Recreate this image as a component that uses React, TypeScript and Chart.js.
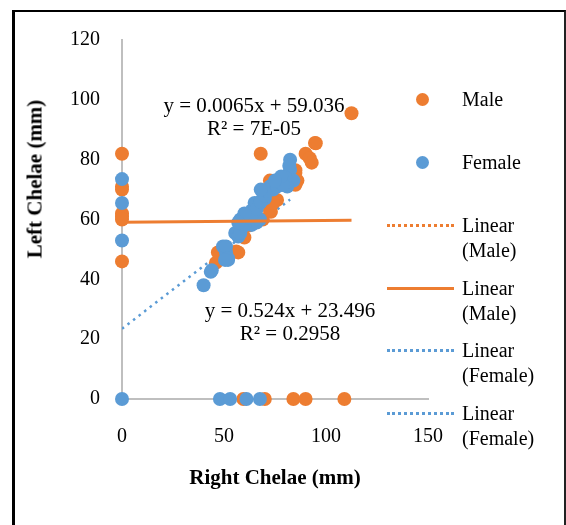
import React, { useEffect, useRef } from "react";
import { Chart, registerables } from "chart.js";

Chart.register(...registerables);

// ---- Data ----
const maleX = [0, 0, 0, 0, 0, 0, 0, 59.5, 70, 84, 90, 109, 112.5, 95, 68, 90, 92, 93, 85, 84, 86, 72.5, 71, 76, 72.5, 69, 60, 57, 48, 46, 73, 75, 65, 62, 85, 85, 73, 74, 56, 47, 94.6];
const maleY = [82, 71, 70, 62, 61, 60, 46, 0, 0, 0, 0, 0, 95.5, 85.5, 82, 82, 80.5, 79, 76.5, 72, 73, 73, 69, 66.5, 63, 60, 54, 49, 49, 45.5, 71.5, 72, 60, 58, 75.6, 71.6, 62.6, 65.5, 49.3, 49, 85.6];

const femaleX = [0, 0, 0, 0, 48, 53, 61, 67.6, 40, 43.5, 44, 49.5, 51, 52, 51, 55.5, 57, 58, 58, 61, 63.6, 63.6, 65, 65, 66, 67.6, 67.6, 69, 70, 72.5, 74, 77.5, 80.7, 82.4, 82.4, 82, 84, 81, 60, 62, 64, 66, 68, 70, 71, 73, 75, 78, 80, 76, 79, 78, 75, 68, 60, 57, 52, 50.5];
const femaleY = [73.5, 65.5, 53, 0, 0, 0, 0, 0, 38, 42.5, 43, 51, 49, 46.5, 51, 55.5, 54.3, 55.5, 60, 61, 63, 58.2, 64.3, 65.5, 59, 60, 65.5, 69, 67, 71, 70, 73, 73, 76.6, 80, 78, 73, 71, 58, 60.5, 62, 63.5, 66, 68, 69.5, 70.5, 72, 72.5, 74, 71, 71.5, 74.4, 73, 70, 62, 59, 47, 46.5];

const maleTrendX = [0, 112.5];
const maleTrendY = [59.04, 59.77];
const femaleTrendX = [0, 82.4];
const femaleTrendY = [23.5, 66.68];

const yTicks = [0, 20, 40, 60, 80, 100, 120];
const xTicks = [0, 50, 100, 150];

const maleEq = ["y = 0.0065x + 59.036", "R² = 7E-05"];
const femaleEq = ["y = 0.524x + 23.496", "R² = 0.2958"];

const legendItems = [
  { lines: ["Male"], kind: "point", color: "#ED7D31" },
  { lines: ["Female"], kind: "point", color: "#5B9BD5" },
  { lines: ["Linear", "(Male)"], kind: "dotted", color: "#ED7D31" },
  { lines: ["Linear", "(Male)"], kind: "solid", color: "#ED7D31" },
  { lines: ["Linear", "(Female)"], kind: "dotted", color: "#5B9BD5" },
  { lines: ["Linear", "(Female)"], kind: "dotted", color: "#5B9BD5" },
];

const ORANGE = "#ED7D31";
const BLUE = "#5B9BD5";
const FONT = "'Liberation Serif', 'Times New Roman', serif";

const toPts = (xs: number[], ys: number[]) => xs.map((x, i) => ({ x, y: ys[i] }));

export default function App() {
  const ref = useRef<HTMLCanvasElement | null>(null);

  useEffect(() => {
    if (!ref.current) return;
    const chart = new Chart(ref.current, {
      type: "scatter",
      data: {
        datasets: [
          {
            label: "Linear (Male)",
            type: "line",
            data: toPts(maleTrendX, maleTrendY),
            borderColor: ORANGE,
            borderWidth: 3,
            pointRadius: 0,
            showLine: true,
            order: 0,
          } as any,
          {
            label: "Linear (Female)",
            type: "line",
            data: toPts(femaleTrendX, femaleTrendY),
            borderColor: BLUE,
            borderWidth: 2.5,
            borderDash: [2.5, 4.5],
            pointRadius: 0,
            showLine: true,
            order: 3,
          } as any,
          {
            label: "Female",
            data: toPts(femaleX, femaleY),
            backgroundColor: BLUE,
            borderColor: BLUE,
            borderWidth: 0,
            pointRadius: 7,
            clip: false,
            order: 1,
          },
          {
            label: "Male",
            data: toPts(maleX, maleY),
            backgroundColor: ORANGE,
            borderColor: ORANGE,
            borderWidth: 0,
            pointRadius: 7,
            clip: false,
            order: 2,
          },
        ],
      },
      options: {
        animation: false,
        responsive: false,
        devicePixelRatio: 1,
        layout: { padding: { left: 0, top: 40, right: 138, bottom: 0 } },
        plugins: { legend: { display: false }, tooltip: { enabled: false } },
        scales: {
          x: {
            type: "linear",
            min: 0,
            max: 150,
            afterBuildTicks: (s: any) => {
              s.ticks = xTicks.map((v) => ({ value: v }));
            },
            afterFit: (s: any) => {
              s.height = 126;
            },
            grid: { display: false, drawTicks: false },
            border: { display: true, color: "#BFBFBF", width: 2 },
            ticks: { color: "#000", font: { family: FONT, size: 20 }, padding: 26, maxRotation: 0 },
            title: {
              display: true,
              text: "Right Chelae (mm)",
              color: "#000",
              font: { family: FONT, size: 21, weight: "bold" },
              padding: { top: 0, bottom: 34 },
            },
          },
          y: {
            type: "linear",
            min: 0,
            max: 120,
            afterBuildTicks: (s: any) => {
              s.ticks = yTicks.map((v) => ({ value: v }));
            },
            afterFit: (s: any) => {
              s.width = 122;
            },
            grid: { display: false, drawTicks: false },
            border: { display: true, color: "#BFBFBF", width: 2 },
            ticks: { color: "#000", font: { family: FONT, size: 20 }, padding: 22 },
          },
        },
      } as any,
    });
    return () => chart.destroy();
  }, []);

  const textBase: React.CSSProperties = {
    position: "absolute",
    fontFamily: FONT,
    fontSize: 20,
    color: "#000",
    whiteSpace: "nowrap",
    lineHeight: "23px",
  };

  const legendY = [99, 162, 225, 288, 350, 413];

  return (
    <div style={{ position: "fixed", left: 0, top: 0, width: 566, height: 525, background: "#fff", overflow: "hidden" }}>
      <canvas ref={ref} width={566} height={525} style={{ position: "absolute", left: 0, top: 0, width: 566, height: 525 }} />
      {/* Y axis title */}
      <div
        style={{
          ...textBase,
          fontSize: 21,
          fontWeight: "bold",
          left: 35,
          top: 179,
          transform: "translate(-50%, -50%) rotate(-90deg)",
        }}
      >
        Left Chelae (mm)
      </div>
      {/* Trendline equations */}
      <div style={{ ...textBase, fontSize: 21, left: 254, top: 94, transform: "translateX(-50%)", textAlign: "center" }}>
        {maleEq.map((t, i) => (
          <div key={i}>{t}</div>
        ))}
      </div>
      <div style={{ ...textBase, fontSize: 21, left: 290, top: 299, transform: "translateX(-50%)", textAlign: "center" }}>
        {femaleEq.map((t, i) => (
          <div key={i}>{t}</div>
        ))}
      </div>
      {/* Legend */}
      {legendItems.map((it, i) => {
        const cy = legendY[i];
        return (
          <React.Fragment key={i}>
            {it.kind === "point" ? (
              <div
                style={{
                  position: "absolute",
                  left: 422 - 6.5,
                  top: cy - 6.5,
                  width: 13,
                  height: 13,
                  borderRadius: "50%",
                  background: it.color,
                }}
              />
            ) : (
              <div
                style={{
                  position: "absolute",
                  left: 387,
                  top: cy - 1.5,
                  width: 67,
                  height: 0,
                  borderTop: it.kind === "solid" ? `3px solid ${it.color}` : `3px dotted ${it.color}`,
                }}
              />
            )}
            <div style={{ ...textBase, left: 462, top: cy - 12, lineHeight: "25px" }}>
              {it.lines.map((t, j) => (
                <div key={j}>{t}</div>
              ))}
            </div>
          </React.Fragment>
        );
      })}
      {/* Frame */}
      <div
        style={{
          position: "absolute",
          left: 12,
          top: 10,
          width: 549,
          height: 600,
          borderTop: "2px solid #000",
          borderLeft: "3px solid #000",
          borderRight: "2px solid #222",
          pointerEvents: "none",
        }}
      />
    </div>
  );
}
